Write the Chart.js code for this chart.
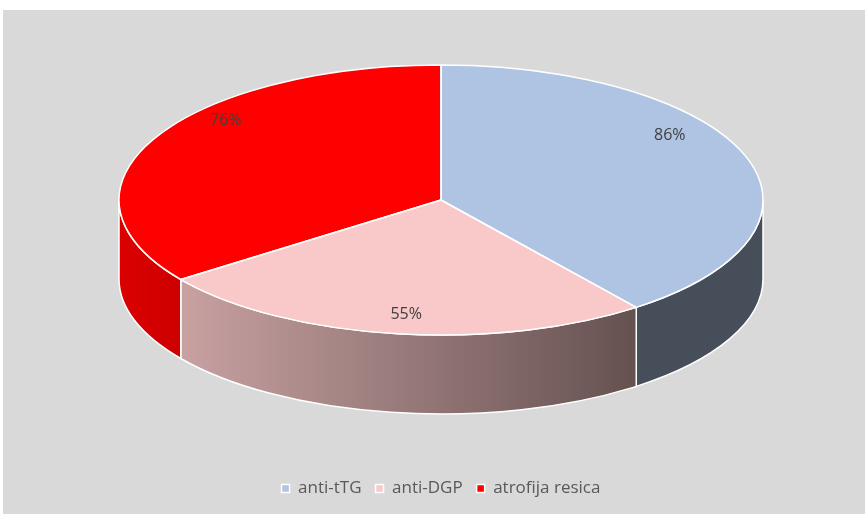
<!DOCTYPE html>
<html>
<head>
<meta charset="utf-8">
<script src="https://cdn.jsdelivr.net/npm/chart.js@4.4.1/dist/chart.umd.min.js"></script>
<style>
  html, body { margin: 0; padding: 0; background: #fff; }
  #wrap { width: 865px; height: 514px; }
</style>
</head>
<body>
<div id="wrap"><canvas id="myChart" width="865" height="514"></canvas></div>
<script>
const labels = ['anti-tTG', 'anti-DGP', 'atrofija resica'];
const values = [86, 55, 76];
const sliceColors = ['#afc4e2', '#f9c8c8', '#ff0000'];

// how the flat pie is laid onto the tilted disc
const view = { cx: 441, cy: 200, rx: 322, ry: 135, depth: 79 };
// labels follow the eye's view a bit: far half squashed, near half stretched
const labelView = { cy: 172, back: 114, front: 144, fx: 0.75 };

function shade(hex, f) {
  const n = parseInt(hex.slice(1), 16);
  const r = Math.round(((n >> 16) & 255) * f);
  const g = Math.round(((n >> 8) & 255) * f);
  const b = Math.round((n & 255) * f);
  return `rgb(${r},${g},${b})`;
}

function toView(ctx, arc) {
  const k = 1 / arc.outerRadius;
  ctx.translate(view.cx, view.cy);
  ctx.scale(view.rx * k, view.ry * k);
  ctx.translate(-arc.x, -arc.y);
}

const background = {
  id: 'background',
  beforeDraw(chart) {
    const ctx = chart.ctx;
    ctx.save();
    ctx.fillStyle = '#ffffff';
    ctx.fillRect(0, 0, chart.width, chart.height);
    ctx.fillStyle = '#d9d9d9';
    ctx.fillRect(3, 10, chart.width - 3, chart.height - 10);
    ctx.restore();
  }
};

const pie3d = {
  id: 'pie3d',
  beforeDatasetsDraw(chart) {
    const ctx = chart.ctx;
    const arcs = chart.getDatasetMeta(0).data;
    const { cx, cy, rx, ry, depth } = view;

    // side walls, only the front half shows
    arcs.forEach((arc) => {
      const col = arc.options.backgroundColor;
      const grad = ctx.createLinearGradient(cx - rx, 0, cx + rx, 0);
      grad.addColorStop(0, shade(col, 0.86));
      grad.addColorStop(0.81, shade(col, 0.40));
      grad.addColorStop(1, shade(col, 0.40));
      for (let k = -1; k <= 2; k++) {
        const a1 = Math.max(arc.startAngle, 2 * Math.PI * k);
        const a2 = Math.min(arc.endAngle, 2 * Math.PI * k + Math.PI);
        if (a2 <= a1) continue;
        ctx.save();
        ctx.beginPath();
        ctx.ellipse(cx, cy, rx, ry, 0, a1, a2, false);
        ctx.lineTo(cx + rx * Math.cos(a2), cy + ry * Math.sin(a2) + depth);
        ctx.ellipse(cx, cy + depth, rx, ry, 0, a2, a1, true);
        ctx.closePath();
        ctx.fillStyle = grad;
        ctx.fill();
        ctx.strokeStyle = '#ffffff';
        ctx.lineWidth = 1.5;
        ctx.stroke();
        ctx.restore();
      }
    });

    // top faces, drawn by the arc elements on the tilted disc
    arcs.forEach((arc) => {
      ctx.save();
      toView(ctx, arc);
      arc.draw(ctx);
      ctx.restore();
    });

    arcs.forEach((arc) => {
      ctx.save();
      ctx.save();
      toView(ctx, arc);
      ctx.beginPath();
      ctx.moveTo(arc.x, arc.y);
      ctx.arc(arc.x, arc.y, arc.outerRadius, arc.startAngle, arc.endAngle);
      ctx.closePath();
      ctx.restore();
      ctx.strokeStyle = '#ffffff';
      ctx.lineWidth = 1.5;
      ctx.lineJoin = 'round';
      ctx.stroke();
      ctx.restore();
    });
    return false;
  },
  afterDraw(chart) {
    const ctx = chart.ctx;
    const arcs = chart.getDatasetMeta(0).data;
    ctx.save();
    ctx.font = '16px "Open Sans"';
    ctx.fillStyle = '#404040';
    ctx.textAlign = 'center';
    ctx.textBaseline = 'middle';
    arcs.forEach((arc, i) => {
      const mid = (arc.startAngle + arc.endAngle) / 2;
      const s = Math.sin(mid);
      const x = view.cx + view.rx * labelView.fx * Math.cos(mid);
      const y = labelView.cy + (s < 0 ? labelView.back : labelView.front) * s;
      ctx.fillText(values[i] + '%', x, y);
    });
    ctx.restore();
  }
};

const ctx = document.getElementById('myChart');
new Chart(ctx, {
  type: 'pie',
  data: {
    labels: labels,
    datasets: [{
      data: values,
      backgroundColor: sliceColors,
      borderWidth: 0
    }]
  },
  options: {
    responsive: false,
    animation: false,
    devicePixelRatio: 1,
    layout: { padding: { left: 17, top: 10, right: 0, bottom: 7 } },
    plugins: {
      tooltip: { enabled: false },
      legend: {
        position: 'bottom',
        labels: {
          boxWidth: 8,
          boxHeight: 8,
          padding: 14,
          color: '#595959',
          font: { family: 'Open Sans', size: 17 },
          generateLabels: (chart) =>
            Chart.overrides.doughnut.plugins.legend.labels.generateLabels(chart)
              .map((l) => ({ ...l, strokeStyle: '#ffffff', lineWidth: 1.5 }))
        }
      }
    }
  },
  plugins: [background, pie3d]
});
</script>
</body>
</html>
